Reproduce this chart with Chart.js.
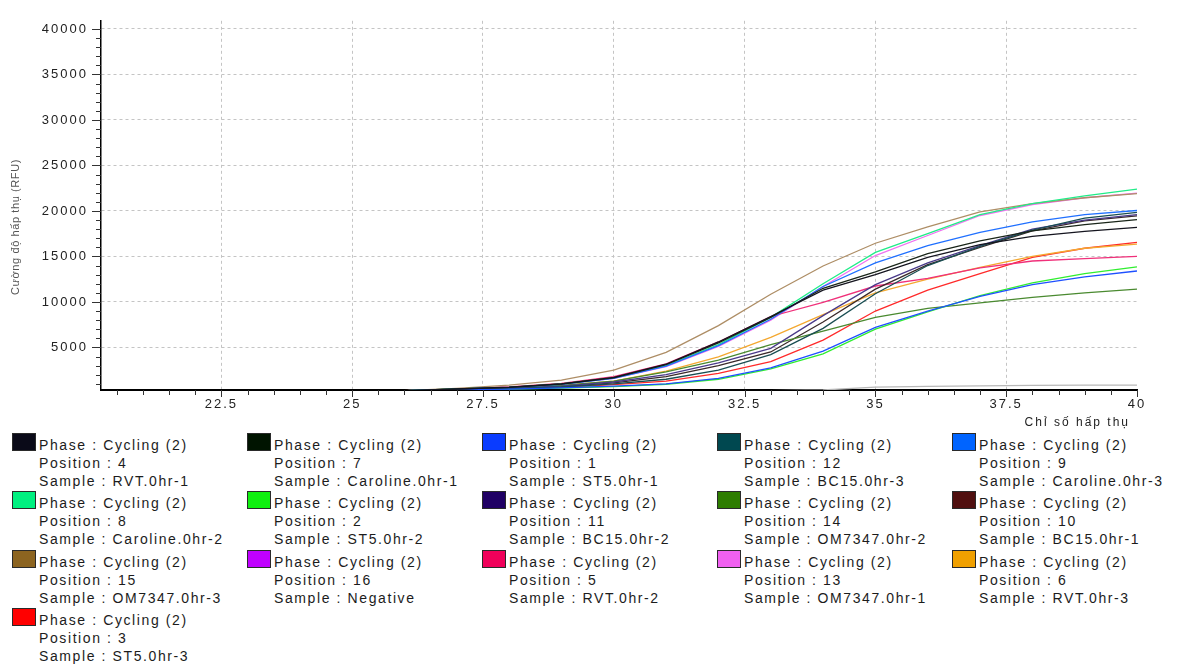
<!DOCTYPE html>
<html>
<head>
<meta charset="utf-8">
<script src="https://cdn.jsdelivr.net/npm/chart.js@4.4.0/dist/chart.umd.min.js"></script>
<style>
  html, body { margin: 0; padding: 0; background: #fff; }
  #wrap { position: relative; width: 1181px; height: 665px; overflow: hidden; }
  #chart { position: absolute; left: 0; top: 0; }
  .item { position: absolute; width: 235px; height: 58px; }
  .sw { position: absolute; left: 0; top: 0; width: 22px; height: 16px; border: 1px solid #2a2a2a; }
  .txt { position: absolute; left: 27px; top: 3px; font: 14px "Liberation Sans", Arial, sans-serif;
         letter-spacing: 1.6px; line-height: 18px; color: #1c1c1c; white-space: nowrap; }
</style>
</head>
<body>
<div id="wrap">
  <canvas id="chart" width="1181" height="432"></canvas>
  <div id="legend"></div>
</div>
<script>
// cycles on the x axis
const cycles = [21, 22, 23, 24, 25, 26, 27, 28, 29, 30, 31, 32, 33, 34, 35, 36, 37, 38, 39, 40];

// fluorescence per sample (RFU), one value per cycle
const rvt1      = [120, 130, 140, 160, 190, 240, 430, 620, 1000, 1700, 3150, 5600, 8400, 11300, 13000, 14900, 16300, 17200, 17750, 18200];
const caroline1 = [120, 130, 140, 160, 190, 240, 430, 610, 980, 1650, 3100, 5500, 8300, 11500, 13300, 15300, 16700, 17800, 18500, 19050];
const st51      = [120, 130, 140, 160, 190, 240, 330, 420, 560, 750, 1000, 1600, 2750, 4600, 7200, 9000, 10600, 11900, 12750, 13400];
const bc153     = [120, 130, 140, 160, 190, 240, 360, 470, 650, 1000, 1500, 2500, 4200, 7100, 10900, 14000, 16100, 17900, 19200, 19850];
const caroline3 = [120, 130, 140, 160, 190, 240, 420, 600, 950, 1600, 2950, 5200, 8100, 11700, 14300, 16200, 17650, 18800, 19600, 20050];
const caroline2 = [120, 130, 140, 160, 190, 240, 430, 610, 980, 1650, 3000, 5300, 8300, 12000, 15450, 17500, 19600, 20800, 21650, 22400];
const st52      = [120, 130, 140, 160, 190, 240, 320, 410, 540, 700, 950, 1500, 2650, 4300, 7000, 8900, 10700, 12100, 13100, 13850];
const bc152     = [120, 130, 140, 160, 190, 240, 380, 510, 740, 1200, 2000, 3300, 4900, 8500, 11900, 14300, 16200, 18000, 19000, 19600];
const om2       = [120, 130, 140, 160, 190, 240, 400, 560, 820, 1300, 2300, 3600, 5300, 6800, 8300, 9300, 9900, 10500, 11000, 11400];
const bc151     = [120, 130, 140, 160, 190, 240, 370, 490, 700, 1100, 1800, 3000, 4500, 7800, 11400, 14100, 16000, 17800, 18900, 19450];
const om3       = [120, 130, 140, 160, 190, 260, 500, 850, 1400, 2500, 4450, 7400, 10850, 13950, 16450, 18250, 19900, 20800, 21450, 21900];
const negative  = [100, 105, 110, 115, 120, 125, 130, 140, 150, 160, 190, 220, 250, 320, 640, 720, 780, 820, 845, 865];
const rvt2      = [120, 130, 140, 160, 190, 240, 440, 650, 1050, 1800, 3200, 5600, 8400, 9950, 11750, 12600, 13750, 14500, 14750, 15000];
const om1       = [120, 130, 140, 160, 190, 240, 420, 600, 960, 1600, 2900, 5100, 8000, 11700, 15100, 17300, 19500, 20700, 21450, 21950];
const rvt3      = [120, 130, 140, 160, 190, 240, 400, 560, 830, 1300, 2400, 3950, 6100, 8600, 11000, 12500, 13800, 15000, 15900, 16350];
const st53      = [120, 130, 140, 160, 190, 240, 340, 440, 600, 900, 1300, 2150, 3450, 5800, 9000, 11300, 13100, 14900, 15900, 16550];

// axis ticks: every 0.5 cycle and every 1000 RFU, labelled on the majors
const xTicks = [];
for (let v = 20.5; v <= 40; v += 0.5) xTicks.push(v);
const yTicks = [];
for (let v = 1000; v <= 40000; v += 1000) yTicks.push(v);

// legend order (row by row, five per row)
const series = [
  { pos: 4,  name: 'RVT.0hr-1',      swatch: '#0a0a18', line: '#15151f', data: rvt1 },
  { pos: 7,  name: 'Caroline.0hr-1', swatch: '#001400', line: '#1a261a', data: caroline1 },
  { pos: 1,  name: 'ST5.0hr-1',      swatch: '#0a3cff', line: '#1e50ff', data: st51 },
  { pos: 12, name: 'BC15.0hr-3',     swatch: '#004850', line: '#1a4e52', data: bc153 },
  { pos: 9,  name: 'Caroline.0hr-3', swatch: '#0064ff', line: '#2070ff', data: caroline3 },
  { pos: 8,  name: 'Caroline.0hr-2', swatch: '#00f080', line: '#20ec88', data: caroline2 },
  { pos: 2,  name: 'ST5.0hr-2',      swatch: '#10f010', line: '#30ee30', data: st52 },
  { pos: 11, name: 'BC15.0hr-2',     swatch: '#200064', line: '#4a3a8a', data: bc152 },
  { pos: 14, name: 'OM7347.0hr-2',   swatch: '#2e7d00', line: '#4a8a30', data: om2 },
  { pos: 10, name: 'BC15.0hr-1',     swatch: '#501010', line: '#3a2a2a', data: bc151 },
  { pos: 15, name: 'OM7347.0hr-3',   swatch: '#8c6420', line: '#ae8e66', data: om3 },
  { pos: 16, name: 'Negative',       swatch: '#c000ff', line: '#b8b8b8', data: negative },
  { pos: 5,  name: 'RVT.0hr-2',      swatch: '#f0005a', line: '#f0307a', data: rvt2 },
  { pos: 13, name: 'OM7347.0hr-1',   swatch: '#f060f0', line: '#f070f0', data: om1 },
  { pos: 6,  name: 'RVT.0hr-3',      swatch: '#f0a000', line: '#f4a830', data: rvt3 },
  { pos: 3,  name: 'ST5.0hr-3',      swatch: '#ff0000', line: '#ff2a2a', data: st53 }
];

const xMajor = v => Math.abs(v / 2.5 - Math.round(v / 2.5)) < 1e-6;
const yMajor = v => v % 5000 === 0;

// tick marks, axis titles and wider spacing for canvas text
const axisText = {
  id: 'axisText',
  beforeDraw(chart) {
    chart.ctx.letterSpacing = '2px';
  },
  afterDraw(chart) {
    const { ctx, chartArea, scales } = chart;
    ctx.save();
    ctx.strokeStyle = '#333';
    ctx.lineWidth = 1;
    ctx.beginPath();
    xTicks.forEach(v => {
      const px = Math.round(scales.x.getPixelForValue(v)) + 0.5;
      ctx.moveTo(px, chartArea.bottom);
      ctx.lineTo(px, chartArea.bottom + (xMajor(v) ? 7 : 5));
    });
    yTicks.forEach(v => {
      const py = Math.round(scales.y.getPixelForValue(v)) + 0.5;
      ctx.moveTo(chartArea.left, py);
      ctx.lineTo(chartArea.left - (yMajor(v) ? 9 : 5), py);
    });
    ctx.stroke();

    ctx.fillStyle = '#222';
    ctx.letterSpacing = '2px';
    ctx.font = '12px "Liberation Sans", Arial, sans-serif';
    ctx.textAlign = 'right';
    ctx.textBaseline = 'middle';
    ctx.fillText('Chỉ số hấp thụ', 1130, 423);
    ctx.letterSpacing = '0.6px';
    ctx.font = '11px "Liberation Sans", Arial, sans-serif';
    ctx.fillStyle = '#555';
    ctx.translate(16, 227);
    ctx.rotate(-Math.PI / 2);
    ctx.textAlign = 'center';
    ctx.fillText('Cường độ hấp thụ (RFU)', 0, 0);
    ctx.restore();
  }
};

new Chart(document.getElementById('chart'), {
  type: 'line',
  data: {
    datasets: series.map(s => ({
      label: s.name,
      data: cycles.map((c, i) => ({ x: c, y: s.data[i] })),
      borderColor: s.line,
      borderWidth: 1.3,
      pointRadius: 0,
      tension: 0,
      fill: false
    }))
  },
  options: {
    responsive: false,
    animation: false,
    devicePixelRatio: 1,
    layout: { padding: { left: 0, right: 44, top: 18, bottom: 0 } },
    plugins: { legend: { display: false }, tooltip: { enabled: false } },
    scales: {
      x: {
        type: 'linear',
        min: 20.2,
        max: 40,
        afterBuildTicks: s => { s.ticks = xTicks.map(v => ({ value: v })); },
        afterFit: s => { s.height = 42; },
        ticks: {
          autoSkip: false,
          maxRotation: 0,
          padding: 7,
          color: '#222',
          font: { family: '"Liberation Sans", Arial, sans-serif', size: 13 },
          callback: v => xMajor(v) ? String(v) : ''
        },
        grid: {
          color: c => (c.tick && xMajor(c.tick.value) && c.tick.value < 40) ? '#c4c4c4' : 'rgba(0,0,0,0)',
          lineWidth: 1,
          drawTicks: false
        },
        border: { color: '#000', width: 2, dash: [3, 3] }
      },
      y: {
        min: 320,
        max: 40900,
        afterBuildTicks: s => { s.ticks = yTicks.map(v => ({ value: v })); },
        afterFit: s => { s.width = 101; },
        ticks: {
          autoSkip: false,
          padding: 13,
          color: '#222',
          font: { family: '"Liberation Sans", Arial, sans-serif', size: 13 },
          callback: v => yMajor(v) ? String(v) : ''
        },
        grid: {
          color: c => (c.tick && yMajor(c.tick.value)) ? '#c4c4c4' : 'rgba(0,0,0,0)',
          lineWidth: 1,
          drawTicks: false
        },
        border: { color: '#000', width: 1.5, dash: [3, 3] }
      }
    }
  },
  plugins: [axisText]
});

// legend blocks under the plot
const legend = document.getElementById('legend');
series.forEach((s, i) => {
  const item = document.createElement('div');
  item.className = 'item';
  item.style.left = (12 + (i % 5) * 235) + 'px';
  item.style.top = (433 + Math.floor(i / 5) * 58.4) + 'px';
  item.innerHTML = '<span class="sw" style="background:' + s.swatch + '"></span>' +
    '<div class="txt">Phase : Cycling (2)<br>Position : ' + s.pos + '<br>Sample : ' + s.name + '</div>';
  legend.appendChild(item);
});
</script>
</body>
</html>
